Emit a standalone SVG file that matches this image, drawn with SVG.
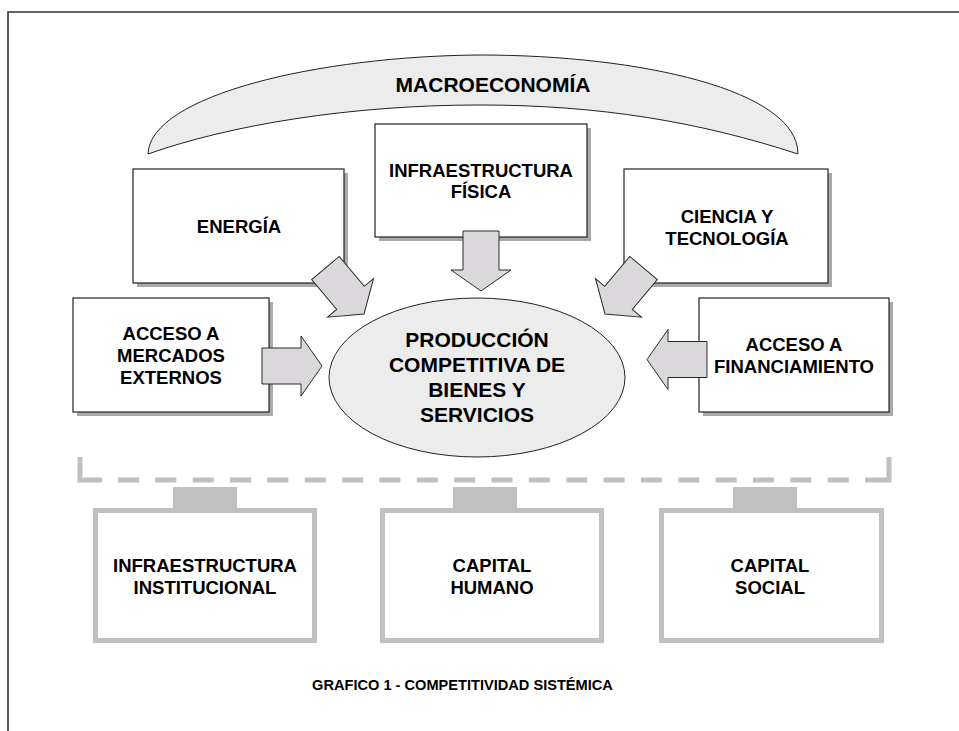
<svg xmlns="http://www.w3.org/2000/svg" xmlns:xlink="http://www.w3.org/1999/xlink" width="959" height="731" viewBox="0 0 959 731">
<style>
  .t{font-family:"Liberation Sans",Arial,Helvetica,sans-serif;font-weight:bold;fill:#000;text-anchor:middle}
  .lbl{font-size:18.5px}
  .big{font-size:21px}
  .cap{font-size:14.6px}
  .box{fill:#fff;stroke:#222;stroke-width:1.2}
  .shadow{fill:#a9a9a9}
  .gbox{fill:#fff;stroke:#c0c0c0;stroke-width:5}
  .tab{fill:#c0c0c0}
  .arrow{fill:#dbd8dc;stroke:#2a2a2a;stroke-width:1}
  .frame{fill:none;stroke:#333;stroke-width:1.6}
  .br{fill:none;stroke:#c0c0c0;stroke-width:5}
</style>
<defs>
  <path id="blockArrow" class="arrow" d="M0,0 L-21,-30 L-21,-18 L-60,-18 L-60,18 L-21,18 L-21,30 Z"/>
</defs>
<rect x="0" y="0" width="959" height="731" fill="#fff"/>
<path class="frame" d="M959,12 H8 V731"/>

<g id="macroeconomia">
  <path d="M148,154 C150,95 320,56 480,55 C640,55 798,90 798,154 C700,122 600,105 480,105 C350,105 230,125 148,154 Z" fill="#ececec" stroke="#222" stroke-width="1"/>
  <text class="t big" x="493" y="92">MACROECONOMÍA</text>
</g>

<g id="energia">
  <rect class="shadow" x="137" y="173" width="211" height="114"/>
  <rect class="box" x="133" y="169" width="211" height="114"/>
  <text class="t lbl" x="239" y="233">ENERGÍA</text>
</g>

<g id="infraestructura-fisica">
  <rect class="shadow" x="379" y="128" width="212" height="113"/>
  <rect class="box" x="375" y="124" width="212" height="113"/>
  <text class="t lbl" x="481" y="177">INFRAESTRUCTURA<tspan x="481" y="198">FÍSICA</tspan></text>
</g>

<g id="ciencia-tecnologia">
  <rect class="shadow" x="628" y="173" width="204" height="114"/>
  <rect class="box" x="624" y="169" width="204" height="114"/>
  <text class="t lbl" x="727" y="223">CIENCIA Y<tspan x="727" y="245">TECNOLOGÍA</tspan></text>
</g>

<g id="acceso-mercados">
  <rect class="shadow" x="77" y="302" width="196" height="114"/>
  <rect class="box" x="73" y="298" width="196" height="114"/>
  <text class="t lbl" x="171" y="340">ACCESO A<tspan x="171" y="362">MERCADOS</tspan><tspan x="171" y="384">EXTERNOS</tspan></text>
</g>

<g id="acceso-financiamiento">
  <rect class="shadow" x="703" y="302" width="190" height="114"/>
  <rect class="box" x="699" y="298" width="190" height="114"/>
  <text class="t lbl" x="794" y="351">ACCESO A<tspan x="794" y="373">FINANCIAMIENTO</tspan></text>
</g>

<g id="produccion">
  <ellipse cx="477" cy="377.5" rx="148" ry="79.5" fill="#ececec" stroke="#222" stroke-width="1"/>
  <text class="t big" x="477" y="347">PRODUCCIÓN<tspan x="477" y="372">COMPETITIVA DE</tspan><tspan x="477" y="397">BIENES Y</tspan><tspan x="477" y="422">SERVICIOS</tspan></text>
</g>

<g id="connectors">
  <use xlink:href="#blockArrow" href="#blockArrow" transform="translate(322,366)"/>
  <use xlink:href="#blockArrow" href="#blockArrow" transform="translate(647,359.5) rotate(180)"/>
  <use xlink:href="#blockArrow" href="#blockArrow" transform="translate(481,291) rotate(90)"/>
  <use xlink:href="#blockArrow" href="#blockArrow" transform="translate(364,314) rotate(50)"/>
  <use xlink:href="#blockArrow" href="#blockArrow" transform="translate(605,314) rotate(130)"/>
</g>

<g id="bracket">
  <path class="br" d="M80,457 V480 H102"/>
  <path class="br" d="M118,480 H865" stroke-dasharray="21 16.35"/>
  <path class="br" d="M865,480 H889 V457"/>
</g>

<g id="infraestructura-institucional">
  <rect class="tab" x="173" y="487" width="64" height="22"/>
  <rect class="gbox" x="95.5" y="510.5" width="219" height="130"/>
  <text class="t lbl" x="205" y="572">INFRAESTRUCTURA<tspan x="205" y="594">INSTITUCIONAL</tspan></text>
</g>

<g id="capital-humano">
  <rect class="tab" x="453" y="487" width="64" height="22"/>
  <rect class="gbox" x="382.5" y="510.5" width="219" height="130"/>
  <text class="t lbl" x="492" y="572">CAPITAL<tspan x="492" y="594">HUMANO</tspan></text>
</g>

<g id="capital-social">
  <rect class="tab" x="733" y="487" width="64" height="22"/>
  <rect class="gbox" x="661.5" y="510.5" width="220" height="130"/>
  <text class="t lbl" x="770" y="572">CAPITAL<tspan x="770" y="594">SOCIAL</tspan></text>
</g>

<text class="t cap" x="462.5" y="690">GRAFICO 1 - COMPETITIVIDAD SISTÉMICA</text>
</svg>
